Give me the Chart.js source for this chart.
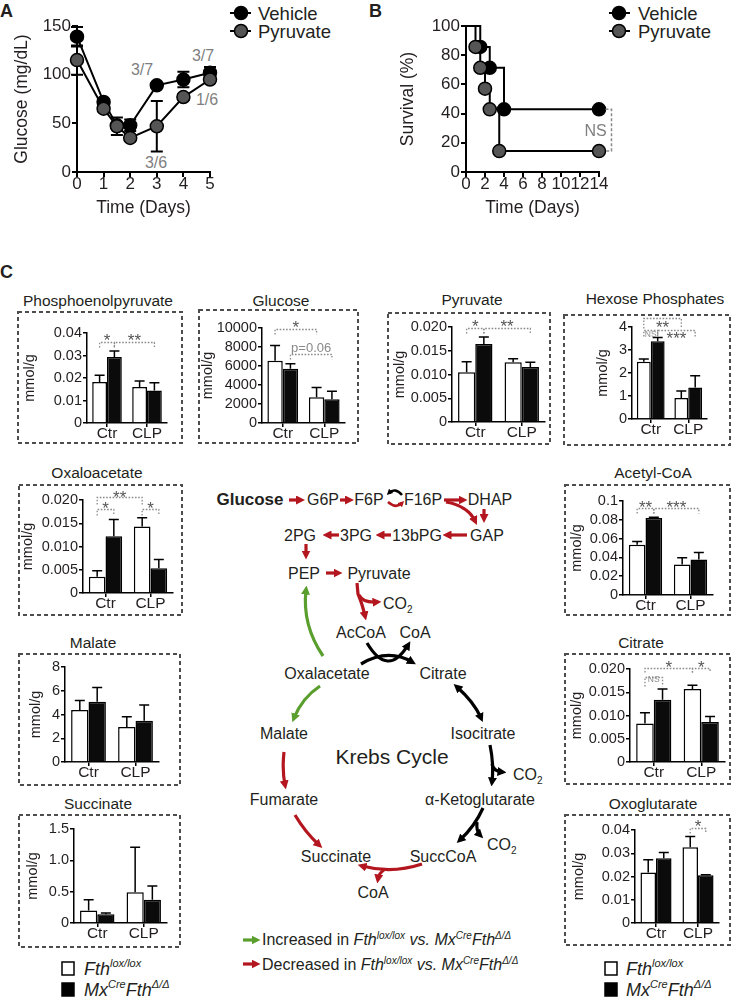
<!DOCTYPE html>
<html>
<head>
<meta charset="utf-8">
<script src="https://cdn.jsdelivr.net/npm/chart.js@4.4.1/dist/chart.umd.min.js"></script>
<style>
html,body{margin:0;padding:0;background:#fff}
body{position:relative;width:732px;height:1003px;overflow:hidden;font-family:"Liberation Sans",Arial,sans-serif}
svg text{font-family:"Liberation Sans",Arial,sans-serif;fill:#231f20}
canvas{position:absolute}
</style>
</head>
<body>
<svg width="732" height="1003" style="position:absolute;left:0;top:0">
<defs>
  <marker id="mr" viewBox="0 0 10 10" refX="5" refY="5" markerWidth="9" markerHeight="9" markerUnits="userSpaceOnUse" orient="auto-start-reverse"><path d="M0,0 L10,5 L0,10 z" fill="#b3161e"/></marker>
  <marker id="mg" viewBox="0 0 10 10" refX="5" refY="5" markerWidth="9" markerHeight="9" markerUnits="userSpaceOnUse" orient="auto-start-reverse"><path d="M0,0 L10,5 L0,10 z" fill="#5a9f2e"/></marker>
  <marker id="mk" viewBox="0 0 10 10" refX="5" refY="5" markerWidth="9" markerHeight="9" markerUnits="userSpaceOnUse" orient="auto-start-reverse"><path d="M0,0 L10,5 L0,10 z" fill="#000"/></marker>
  <marker id="mrs" viewBox="0 0 10 10" refX="5" refY="5" markerWidth="6" markerHeight="6" markerUnits="userSpaceOnUse" orient="auto"><path d="M0,0 L10,5 L0,10 z" fill="#b3161e"/></marker>
  <marker id="mks" viewBox="0 0 10 10" refX="5" refY="5" markerWidth="6" markerHeight="6" markerUnits="userSpaceOnUse" orient="auto"><path d="M0,0 L10,5 L0,10 z" fill="#000"/></marker>
</defs>

<!-- panel letters -->
<text x="0" y="17" font-size="18" font-weight="bold">A</text>
<text x="369" y="17" font-size="18" font-weight="bold">B</text>
<text x="0" y="278" font-size="18" font-weight="bold">C</text>

<!-- legends A and B -->
<g stroke="#000" stroke-width="2">
  <line x1="230" y1="13" x2="251" y2="13"/><circle cx="241" cy="13" r="6.5" fill="#000" stroke-width="1.5"/>
  <line x1="230" y1="31" x2="251" y2="31"/><circle cx="241" cy="31" r="6.5" fill="#555" stroke-width="1.5"/>
  <line x1="609" y1="13" x2="630" y2="13"/><circle cx="619" cy="13" r="6.5" fill="#000" stroke-width="1.5"/>
  <line x1="609" y1="31" x2="630" y2="31"/><circle cx="619" cy="31" r="6.5" fill="#555" stroke-width="1.5"/>
</g>
<text x="258" y="19.5" font-size="18.5">Vehicle</text>
<text x="258" y="37.5" font-size="18.5">Pyruvate</text>
<text x="638" y="19.5" font-size="18.5">Vehicle</text>
<text x="638" y="37.5" font-size="18.5">Pyruvate</text>

<!-- survivor counts on panel A -->
<g font-size="16" text-anchor="middle" style="fill:#7f7f7f">
  <text x="142" y="75" style="fill:#7f7f7f">3/7</text>
  <text x="203" y="61" style="fill:#7f7f7f">3/7</text>
  <text x="207" y="105" style="fill:#7f7f7f">1/6</text>
  <text x="156" y="168" style="fill:#7f7f7f">3/6</text>
</g>

<!-- dashed boxes of panel C -->
<g fill="none" stroke="#4d4d4d" stroke-width="2" stroke-dasharray="4 3">
  <rect x="18" y="312" width="164" height="131"/>
  <rect x="199" y="310" width="159" height="133"/>
  <rect x="388" y="313" width="162" height="131"/>
  <rect x="564" y="315" width="166" height="130"/>
  <rect x="19" y="485" width="163" height="130"/>
  <rect x="565" y="485" width="165" height="130"/>
  <rect x="19" y="654" width="161" height="131"/>
  <rect x="565" y="654" width="165" height="130"/>
  <rect x="19" y="815" width="161" height="132"/>
  <rect x="565" y="815" width="165" height="130"/>
</g>

<!-- titles -->
<g font-size="15.5" text-anchor="middle">
  <text x="98" y="305.5">Phosphoenolpyruvate</text>
  <text x="281" y="305.5">Glucose</text>
  <text x="472" y="304.5">Pyruvate</text>
  <text x="655" y="303.5">Hexose Phosphates</text>
  <text x="97" y="477.5">Oxaloacetate</text>
  <text x="653" y="477.5">Acetyl-CoA</text>
  <text x="93" y="647.5">Malate</text>
  <text x="641" y="647.5">Citrate</text>
  <text x="98" y="808.5">Succinate</text>
  <text x="653" y="808.5">Oxoglutarate</text>
</g>

<!-- pathway -->
<text x="250" y="505" font-size="17" font-weight="bold" text-anchor="middle">Glucose</text>
<g font-size="16" text-anchor="middle">
  <text x="323" y="504.6">G6P</text>
  <text x="369" y="504.6">F6P</text>
  <text x="423" y="504.6">F16P</text>
  <text x="490" y="504.6">DHAP</text>
  <text x="300" y="540.6">2PG</text>
  <text x="356" y="540.6">3PG</text>
  <text x="417" y="540.6">13bPG</text>
  <text x="487" y="540.6">GAP</text>
  <text x="304" y="578.6">PEP</text>
  <text x="379" y="578.6">Pyruvate</text>
  <text x="361" y="637.6">AcCoA</text>
  <text x="415" y="637.6">CoA</text>
  <text x="327" y="678.6">Oxalacetate</text>
  <text x="443" y="678.6">Citrate</text>
  <text x="284" y="738.6">Malate</text>
  <text x="483" y="738.6">Isocitrate</text>
  <text x="284" y="804.6">Fumarate</text>
  <text x="480" y="804.6">α-Ketoglutarate</text>
  <text x="336" y="861.6">Succinate</text>
  <text x="443" y="861.6">SuccCoA</text>
  <text x="373" y="897.6">CoA</text>
</g>
<text x="392" y="764.4" font-size="21" text-anchor="middle">Krebs Cycle</text>
<text x="383" y="608.6" font-size="16">CO<tspan font-size="10" dy="4">2</tspan></text>
<text x="513" y="779.6" font-size="16">CO<tspan font-size="10" dy="4">2</tspan></text>
<text x="487" y="849.6" font-size="16">CO<tspan font-size="10" dy="4">2</tspan></text>

<g fill="none" stroke-width="3.2">
  <g stroke="#b3161e" marker-end="url(#mr)">
    <path d="M289,500 H300.5"/>
    <path d="M340,500 H349.5"/>
    <path d="M444,500 H463"/>
    <path d="M446,502 Q468,506 475,521"/>
    <path d="M484,509 V518.5"/>
    <path d="M467,535 H447"/>
    <path d="M391,535 H380"/>
    <path d="M339,535 H327"/>
    <path d="M306,544 V555"/>
    <path d="M326,573 H338"/>
    <path d="M357,583 L358,594 Q362,603 365,616"/>
    <path d="M359,595 Q363,603 377,602"/>
    <path d="M284,752 Q282,770 285,785"/>
    <path d="M295,815 Q305,832 319,845"/>
    <path d="M422,864 Q392,874 362,866"/>
    <path d="M384,870 Q379,873 378,879"/>
    <path d="M243,964 H256"/>
  </g>
  <g stroke="#5a9f2e" marker-end="url(#mg)">
    <path d="M323,656 Q302,625 306,590"/>
    <path d="M320,686 Q302,698 294,718"/>
    <path d="M243,940 H256"/>
  </g>
  <g stroke="#000" marker-end="url(#mk)">
    <path d="M367,643 Q388,678 408,645"/>
    <path d="M361,664 Q388,648 412,662"/>
    <path d="M457,687 Q474,702 481,718" marker-start="url(#mk)"/>
    <path d="M490,745 Q494,764 492,782"/>
    <path d="M492,764 Q493,771 502,772"/>
    <path d="M483,808 Q475,826 460,840"/>
    <path d="M477,822 Q476,831 480,835"/>
  </g>
  <path d="M402,495 Q395,487 389,493" stroke="#000" stroke-width="2.6" marker-end="url(#mks)"/>
  <path d="M388,502 Q396,509 402,503" stroke="#b3161e" stroke-width="2.6" marker-end="url(#mrs)"/>
</g>

<!-- pathway legend -->
<text x="262" y="945" font-size="16">Increased in <tspan font-style="italic">Fth</tspan><tspan font-style="italic" font-size="10" dy="-6">lox/lox</tspan><tspan dy="6"> </tspan><tspan font-style="italic">vs.</tspan> <tspan font-style="italic">Mx</tspan><tspan font-style="italic" font-size="10" dy="-6">Cre</tspan><tspan font-style="italic" dy="6">Fth</tspan><tspan font-style="italic" font-size="10" dy="-6">Δ/Δ</tspan></text>
<text x="262" y="970" font-size="16">Decreased in <tspan font-style="italic">Fth</tspan><tspan font-style="italic" font-size="10" dy="-6">lox/lox</tspan><tspan dy="6"> </tspan><tspan font-style="italic">vs.</tspan> <tspan font-style="italic">Mx</tspan><tspan font-style="italic" font-size="10" dy="-6">Cre</tspan><tspan font-style="italic" dy="6">Fth</tspan><tspan font-style="italic" font-size="10" dy="-6">Δ/Δ</tspan></text>

<!-- bar legends -->
<g stroke="#000" stroke-width="1.5">
  <rect x="62" y="962" width="12" height="13" fill="#fff"/>
  <rect x="62" y="983" width="12" height="13" fill="#000"/>
  <rect x="605" y="962" width="12" height="13" fill="#fff"/>
  <rect x="605" y="983" width="12" height="13" fill="#000"/>
</g>
<g font-size="18" font-style="italic">
  <text x="84" y="975">Fth<tspan font-size="11" dy="-8">lox/lox</tspan></text>
  <text x="84" y="996">Mx<tspan font-size="11" dy="-8">Cre</tspan><tspan dy="8">Fth</tspan><tspan font-size="11" dy="-8">Δ/Δ</tspan></text>
  <text x="626" y="975">Fth<tspan font-size="11" dy="-8">lox/lox</tspan></text>
  <text x="626" y="996">Mx<tspan font-size="11" dy="-8">Cre</tspan><tspan dy="8">Fth</tspan><tspan font-size="11" dy="-8">Δ/Δ</tspan></text>
</g>
</svg>

<script>
// ---------- data ----------
// A: blood glucose after CLP (mg/dL), mean and SEM
const glucoseTicks = ['0', '50', '100', '150'];
const dayTicks = ['0', '1', '2', '3', '4', '5'];
const vehDays = [0, 1, 1.5, 2, 3, 4, 5];
const vehGlucose = [139, 72, 48, 48, 89, 95, 102];
const vehGlucoseSem = [10, 3, 0, 6, 2, 8, 6];
const pyrDays = [0, 1, 1.5, 2, 3, 4, 5];
const pyrGlucose = [115, 65, 47, 35, 47, 77, 95];
const pyrGlucoseSem = [15, 2, 9, 2, 26, 3, 3];

// B: survival (%)
const survTicks = ['0', '20', '40', '60', '80', '100'];
const survDayTicks = ['0', '2', '4', '6', '8', '10', '12', '14'];
const vehSurvDays = [0, 1.5, 2.5, 4, 14];
const vehSurv = [100, 85.7, 71.4, 42.9, 42.9];
const pyrSurvDays = [0, 1, 1.5, 2, 2.5, 3.5, 14];
const pyrSurv = [100, 85.7, 71.4, 57.1, 42.9, 14.3, 14.3];

// C: metabolites (mmol/g), Fth lox/lox vs MxCre Fth D/D, groups Ctr / CLP
const groups = ['Ctr', 'CLP'];

const pepTicks = ['0', '0.01', '0.02', '0.03', '0.04'];
const pepFth = [0.0182, 0.0160];
const pepFthSem = [0.0030, 0.0027];
const pepMx = [0.0293, 0.0145];
const pepMxSem = [0.0027, 0.0034];

const gluTicks = ['0', '2000', '4000', '6000', '8000', '10000'];
const gluFth = [6550, 2700];
const gluFthSem = [1600, 1050];
const gluMx = [5700, 2500];
const gluMxSem = [530, 850];

const pyrTicks = ['0', '0.005', '0.010', '0.015', '0.020'];
const pyrFth = [0.0105, 0.0126];
const pyrFthSem = [0.0022, 0.0007];
const pyrMx = [0.0164, 0.0116];
const pyrMxSem = [0.0015, 0.0010];

const hexTicks = ['0', '1', '2', '3', '4'];
const hexFth = [2.49, 0.91];
const hexFthSem = [0.12, 0.31];
const hexMx = [3.38, 1.37];
const hexMxSem = [0.16, 0.51];

const oaaTicks = ['0', '0.005', '0.010', '0.015', '0.020'];
const oaaFth = [0.0035, 0.0143];
const oaaFthSem = [0.0013, 0.0019];
const oaaMx = [0.0122, 0.0053];
const oaaMxSem = [0.0036, 0.0019];

const acoaTicks = ['0', '0.02', '0.04', '0.06', '0.08', '0.1'];
const acoaFth = [0.0535, 0.0325];
const acoaFthSem = [0.0035, 0.0070];
const acoaMx = [0.0818, 0.0378];
const acoaMxSem = [0.0010, 0.0074];

const malTicks = ['0', '2', '4', '6', '8'];
const malFth = [4.38, 2.94];
const malFthSem = [0.79, 0.87];
const malMx = [5.08, 3.47];
const malMxSem = [1.19, 1.33];

const citTicks = ['0', '0.005', '0.010', '0.015', '0.020'];
const citFth = [0.0083, 0.0157];
const citFthSem = [0.0023, 0.0008];
const citMx = [0.0134, 0.0086];
const citMxSem = [0.0023, 0.0012];

const sucTicks = ['0', '0.5', '1.0', '1.5'];
const sucFth = [0.20, 0.49];
const sucFthSem = [0.17, 0.72];
const sucMx = [0.14, 0.37];
const sucMxSem = [0.02, 0.22];

const oxgTicks = ['0', '0.01', '0.02', '0.03', '0.04'];
const oxgFth = [0.0217, 0.0326];
const oxgFthSem = [0.0055, 0.0046];
const oxgMx = [0.0279, 0.0205];
const oxgMxSem = [0.0024, 0.0003];

// ---------- setup ----------
const FAMILY = '"Liberation Sans", Arial, Helvetica, sans-serif';
Chart.defaults.font.family = FAMILY;
Chart.defaults.color = '#231f20';
Chart.defaults.animation = false;
Chart.defaults.responsive = false;
Chart.defaults.devicePixelRatio = 1;
Chart.defaults.plugins.legend.display = false;
Chart.defaults.plugins.tooltip.enabled = false;

function makeCanvas(x, y, w, h) {
  const c = document.createElement('canvas');
  c.width = w; c.height = h;
  c.style.left = x + 'px'; c.style.top = y + 'px';
  c.style.width = w + 'px'; c.style.height = h + 'px';
  document.body.appendChild(c);
  return c;
}

function tickLabel(labels) {
  return v => {
    const hit = labels.find(l => Math.abs(parseFloat(l) - v) < 1e-9 + Math.abs(v) * 1e-6);
    return hit === undefined ? '' : hit;
  };
}

function drawErr(chart, mode) {
  const ctx = chart.ctx, ys = chart.scales.y;
  chart.data.datasets.forEach((ds, di) => {
    if (!ds.errors || (ds.errMode || 'up') !== mode) return;
    const meta = chart.getDatasetMeta(di);
    meta.data.forEach((el, i) => {
      const raw = ds.data[i];
      const val = typeof raw === 'object' ? raw.y : raw;
      const e = ds.errors[i];
      if (!e) return;
      const yTop = ys.getPixelForValue(val + e);
      const yBot = ys.getPixelForValue(mode === 'both' ? val - e : val);
      const cap = ds.capHalf || 5;
      ctx.save();
      ctx.strokeStyle = '#000';
      ctx.lineWidth = ds.errWidth || 1.5;
      ctx.beginPath();
      ctx.moveTo(el.x, yBot); ctx.lineTo(el.x, yTop);
      ctx.moveTo(el.x - cap, yTop); ctx.lineTo(el.x + cap, yTop);
      if (mode === 'both') { ctx.moveTo(el.x - cap, yBot); ctx.lineTo(el.x + cap, yBot); }
      ctx.stroke();
      ctx.restore();
    });
  });
}

const errorBars = {
  id: 'errorBars',
  beforeDatasetsDraw(chart) { drawErr(chart, 'both'); },
  afterDatasetsDraw(chart) { drawErr(chart, 'up'); }
};

// dotted significance brackets between two bars
function brackets(items) {
  return {
    id: 'brackets',
    afterDraw(chart) {
      const ctx = chart.ctx, ys = chart.scales.y;
      items.forEach(b => {
        const x1 = chart.getDatasetMeta(b.a[1]).data[b.a[0]].x;
        const x2 = chart.getDatasetMeta(b.b[1]).data[b.b[0]].x;
        const y = Math.round(ys.getPixelForValue(b.v)) + 0.5;
        ctx.save();
        ctx.strokeStyle = '#8a8a8a';
        ctx.lineWidth = 1.3;
        ctx.setLineDash([1.6, 1.6]);
        ctx.beginPath();
        ctx.moveTo(x1, y + b.tk); ctx.lineTo(x1, y); ctx.lineTo(x2, y); ctx.lineTo(x2, y + b.tk);
        ctx.stroke();
        ctx.setLineDash([]);
        ctx.fillStyle = b.color || '#555';
        ctx.font = (b.size || 17) + 'px ' + FAMILY;
        ctx.textAlign = 'center';
        ctx.textBaseline = 'alphabetic';
        ctx.fillText(b.t, (x1 + x2) / 2, y + b.dy);
        ctx.restore();
      });
    }
  };
}

function axisBase(fontSize, lw) {
  return {
    border: { display: true, color: '#000', width: lw },
    grid: { display: true, drawOnChartArea: false, drawTicks: true, tickLength: 5, color: '#000', lineWidth: lw },
    ticks: { font: { size: fontSize }, color: '#231f20', padding: 1, autoSkip: false, maxRotation: 0 }
  };
}

function barPanel(box, plot, titleX, ticks, fth, fthSem, mx, mxSem, marks) {
  const [bx, by, bw, bh] = box;
  const c = makeCanvas(bx, by, bw, bh);
  const yMax = parseFloat(ticks[ticks.length - 1]);
  const step = parseFloat(ticks[1]);
  const xAx = axisBase(15.5, 1.5);
  xAx.grid.offset = false;
  xAx.grid.tickLength = 4;
  xAx.ticks.padding = -3;
  xAx.afterFit = s => { s.height = by + bh - plot[3]; };
  const yAx = axisBase(14.5, 1.5);
  yAx.min = 0; yAx.max = yMax;
  yAx.grid.tickLength = 4;
  yAx.ticks.stepSize = step;
  yAx.ticks.callback = tickLabel(ticks);
  yAx.title = { display: true, text: 'mmol/g', font: { size: 14.5 }, color: '#231f20', padding: { top: titleX - 8.7, bottom: 0 } };
  yAx.afterFit = s => { s.width = plot[0] - bx; };
  new Chart(c, {
    type: 'bar',
    data: {
      labels: groups,
      datasets: [
        { data: fth, errors: fthSem, backgroundColor: '#fff', borderColor: '#000', borderWidth: 1.5, borderSkipped: 'bottom', categoryPercentage: 0.74, barPercentage: 1 },
        { data: mx, errors: mxSem, backgroundColor: '#0b0b0b', borderColor: '#000', borderWidth: 1.5, borderSkipped: 'bottom', categoryPercentage: 0.74, barPercentage: 1 }
      ]
    },
    options: {
      layout: { padding: { top: plot[1] - by, right: bx + bw - plot[2], left: 0, bottom: 0 } },
      scales: { x: xAx, y: yAx }
    },
    plugins: [errorBars, brackets(marks)]
  });
}

// ---------- panel A ----------
(function () {
  const c = makeCanvas(0, 0, 240, 220);
  const xAx = axisBase(17, 2);
  xAx.type = 'linear'; xAx.min = 0; xAx.max = 5;
  xAx.ticks.stepSize = 1; xAx.ticks.callback = tickLabel(dayTicks); xAx.ticks.padding = -3;
  xAx.title = { display: true, text: 'Time (Days)', font: { size: 17.5 }, color: '#231f20', padding: { top: 0, bottom: 1 } };
  xAx.afterFit = s => { s.height = 220 - 172; };
  const yAx = axisBase(17, 2);
  yAx.min = 0; yAx.max = 150;
  yAx.ticks.stepSize = 50; yAx.ticks.callback = tickLabel(glucoseTicks);
  yAx.title = { display: true, text: 'Glucose (mg/dL)', font: { size: 17.5 }, color: '#231f20', padding: { top: 11.5, bottom: 0 } };
  yAx.afterFit = s => { s.width = 77; };
  const pt = { borderColor: '#000', borderWidth: 2, pointRadius: 6.5, pointBorderColor: '#000', pointBorderWidth: 1.5, clip: false, errMode: 'both', capHalf: 6, errWidth: 2 };
  new Chart(c, {
    type: 'line',
    data: {
      datasets: [
        Object.assign({ label: 'Pyruvate', data: pyrDays.map((d, i) => ({ x: d, y: pyrGlucose[i] })), errors: pyrGlucoseSem, pointBackgroundColor: '#555' }, pt),
        Object.assign({ label: 'Vehicle', data: vehDays.map((d, i) => ({ x: d, y: vehGlucose[i] })), errors: vehGlucoseSem, pointBackgroundColor: '#000' }, pt)
      ]
    },
    options: {
      layout: { padding: { top: 26, right: 30, left: 0, bottom: 0 } },
      scales: { x: xAx, y: yAx }
    },
    plugins: [errorBars]
  });
})();

// ---------- panel B ----------
(function () {
  const c = makeCanvas(390, 0, 232, 220);
  const xAx = axisBase(17, 2);
  xAx.type = 'linear'; xAx.min = 0; xAx.max = 14;
  xAx.ticks.stepSize = 2; xAx.ticks.callback = tickLabel(survDayTicks); xAx.ticks.padding = -3;
  xAx.title = { display: true, text: 'Time (Days)', font: { size: 17.5 }, color: '#231f20', padding: { top: 0, bottom: 1 } };
  xAx.afterFit = s => { s.height = 220 - 172; };
  const yAx = axisBase(17, 2);
  yAx.min = 0; yAx.max = 100;
  yAx.ticks.stepSize = 20; yAx.ticks.callback = tickLabel(survTicks);
  yAx.title = { display: true, text: 'Survival (%)', font: { size: 17.5 }, color: '#231f20', padding: { top: 7.5, bottom: 0 } };
  yAx.afterFit = s => { s.width = 466 - 390; };
  const radii = n => Array.from({ length: n }, (_, i) => (i === 0 ? 0 : 6.5));
  const nsMark = {
    id: 'nsMark',
    afterDraw(chart) {
      const ctx = chart.ctx, xs = chart.scales.x, ys = chart.scales.y;
      const x = xs.getPixelForValue(vehSurvDays[vehSurvDays.length - 1]) + 12.5;
      const y1 = ys.getPixelForValue(vehSurv[vehSurv.length - 1]);
      const y2 = ys.getPixelForValue(pyrSurv[pyrSurv.length - 1]);
      ctx.save();
      ctx.strokeStyle = '#8a8a8a'; ctx.lineWidth = 1.5; ctx.setLineDash([3, 2]);
      ctx.beginPath();
      ctx.moveTo(x - 6, y1); ctx.lineTo(x, y1); ctx.lineTo(x, y2); ctx.lineTo(x - 6, y2);
      ctx.stroke();
      ctx.fillStyle = '#7f7f7f'; ctx.font = '16px ' + FAMILY;
      ctx.textAlign = 'center'; ctx.textBaseline = 'middle';
      ctx.fillText('NS', x - 16, (y1 + y2) / 2 + 1);
      ctx.restore();
    }
  };
  const st = { borderColor: '#000', borderWidth: 2, stepped: 'before', pointBorderColor: '#000', pointBorderWidth: 1.5, clip: false };
  new Chart(c, {
    type: 'line',
    data: {
      datasets: [
        Object.assign({ data: pyrSurvDays.map((d, i) => ({ x: d, y: pyrSurv[i] })), pointRadius: radii(pyrSurv.length), pointBackgroundColor: '#555' }, st),
        Object.assign({ data: vehSurvDays.map((d, i) => ({ x: d, y: vehSurv[i] })), pointRadius: radii(vehSurv.length), pointBackgroundColor: '#000' }, st)
      ]
    },
    options: {
      layout: { padding: { top: 26, right: 232 + 390 - 599, left: 0, bottom: 0 } },
      scales: { x: xAx, y: yAx }
    },
    plugins: [nsMark]
  });
})();

// ---------- panel C ----------
barPanel([18, 312, 164, 131], [87, 333, 167, 423], 12, pepTicks, pepFth, pepFthSem, pepMx, pepMxSem, [
  { a: [0, 0], b: [0, 1], v: 0.036, t: '*', tk: 5, dy: 3 },
  { a: [0, 1], b: [1, 1], v: 0.036, t: '**', tk: 5, dy: 3 }
]);
barPanel([199, 310, 159, 133], [262, 328, 345, 423], 9, gluTicks, gluFth, gluFthSem, gluMx, gluMxSem, [
  { a: [0, 0], b: [1, 0], v: 9900, t: '*', tk: 5, dy: 3 },
  { a: [0, 1], b: [1, 1], v: 7260, t: 'p=0.06', tk: 5, dy: -3, size: 13, color: '#8a8a8a' }
]);
barPanel([388, 313, 162, 131], [452, 327, 545, 422], 12, pyrTicks, pyrFth, pyrFthSem, pyrMx, pyrMxSem, [
  { a: [0, 0], b: [0, 1], v: 0.0198, t: '*', tk: 5, dy: 3 },
  { a: [0, 1], b: [1, 1], v: 0.0198, t: '**', tk: 5, dy: 3 }
]);
barPanel([564, 315, 166, 130], [632, 327, 707, 419], 39, hexTicks, hexFth, hexFthSem, hexMx, hexMxSem, [
  { a: [0, 0], b: [1, 0], v: 4.39, t: '**', tk: 10, dy: 14 },
  { a: [0, 0], b: [0, 1], v: 3.87, t: 'NS', tk: 6, dy: 6, size: 8.5, color: '#8a8a8a' },
  { a: [0, 1], b: [1, 1], v: 3.87, t: '***', tk: 6, dy: 13 }
]);
barPanel([19, 485, 163, 130], [83, 500, 173, 593], 9, oaaTicks, oaaFth, oaaFthSem, oaaMx, oaaMxSem, [
  { a: [0, 0], b: [1, 0], v: 0.02065, t: '**', tk: 7, dy: 5 },
  { a: [0, 0], b: [0, 1], v: 0.01806, t: '*', tk: 6, dy: 4 },
  { a: [1, 0], b: [1, 1], v: 0.01806, t: '*', tk: 6, dy: 4 }
]);
barPanel([565, 485, 165, 130], [623, 501, 713, 595], 12, acoaTicks, acoaFth, acoaFthSem, acoaMx, acoaMxSem, [
  { a: [0, 0], b: [0, 1], v: 0.0926, t: '**', tk: 5, dy: 4 },
  { a: [0, 1], b: [1, 1], v: 0.0926, t: '***', tk: 5, dy: 4 }
]);
barPanel([19, 654, 161, 131], [65, 667, 159, 762], 17, malTicks, malFth, malFthSem, malMx, malMxSem, []);
barPanel([565, 654, 165, 130], [630, 669, 725, 762], 12, citTicks, citFth, citFthSem, citMx, citMxSem, [
  { a: [0, 0], b: [1, 0], v: 0.0202, t: '*', tk: 4, dy: 4 },
  { a: [1, 0], b: [1, 1], v: 0.0202, t: '*', tk: 4, dy: 4 },
  { a: [0, 0], b: [0, 1], v: 0.0183, t: 'NS', tk: 9, dy: 4, size: 8.5, color: '#8a8a8a' }
]);
barPanel([19, 815, 161, 132], [74, 829, 167, 923], 14, sucTicks, sucFth, sucFthSem, sucMx, sucMxSem, []);
barPanel([565, 815, 165, 130], [635, 830, 719, 923], 14, oxgTicks, oxgFth, oxgFthSem, oxgMx, oxgMxSem, [
  { a: [1, 0], b: [1, 1], v: 0.0409, t: '*', tk: 5, dy: 3 }
]);
</script>
</body>
</html>
